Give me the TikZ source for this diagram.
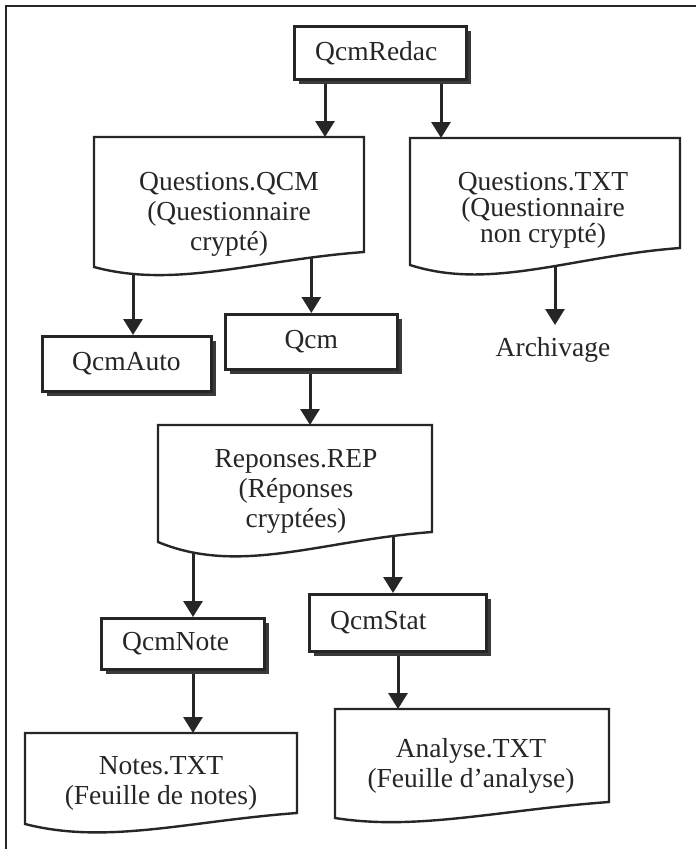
\documentclass[tikz,border=0pt]{standalone}
\usepackage{fontspec}
\setmainfont{Liberation Serif}
\usetikzlibrary{arrows.meta,shadows,backgrounds}
\definecolor{ink}{HTML}{262626}
\definecolor{shade}{HTML}{3A3A3A}
\tikzset{
  x=1pt, y=-1pt,
  every node/.style={font=\fontsize{27.5}{30}\selectfont, text=ink, inner sep=0pt},
  procbox/.style={draw=ink, line width=2.7pt, fill=white, anchor=north west,
    general shadow={fill=shade, shadow xshift=4.5pt, shadow yshift=-5pt}},
  doctext/.style={align=center},
  docline/.style={draw=ink, line width=2.4pt, fill=white},
  frame/.style={draw=ink, line width=2.2pt},
  flow/.style={draw=ink, line width=3pt, -{Triangle[length=16pt,width=19pt]}},
}
\begin{document}
\begin{tikzpicture}
\useasboundingbox (0,0) rectangle (696,849);
\draw[frame] (6,849) -- (6,6) -- (696,6);

% programs (shadowed boxes)
\node[procbox, minimum width=172pt, minimum height=53pt] (redac) at (293,25) {};
\node[anchor=west] (redacT) at ([xshift=22pt]redac.west) {QcmRedac};
\node[procbox, minimum width=169pt, minimum height=55pt] (auto) at (41,335) {};
\node[anchor=west] (autoT) at ([xshift=31pt]auto.west) {QcmAuto};
\node[procbox, minimum width=172pt, minimum height=55pt] (qcm) at (224,313) {};
\node (qcmT) at (qcm.center) {Qcm};
\node[procbox, minimum width=163pt, minimum height=51pt] (note) at (100,617) {};
\node[anchor=west] (noteT) at ([xshift=22pt]note.west) {QcmNote};
\node[procbox, minimum width=177pt, minimum height=57pt] (stat) at (308,593) {};
\node[anchor=west] (statT) at ([xshift=22pt]stat.west) {QcmStat};

% files (document shapes with a wavy lower edge)
\path[docline] (94,137) -- (364,137) -- (364,252)
  .. controls (256,260) and (175,289) .. (94,267) -- cycle;
\node[doctext] (qtext) at (229,214) {Questions.QCM\\(Questionnaire\\crypté)};

\path[docline] (410,138) -- (680,138) -- (680,248)
  .. controls (572,256) and (491,291) .. (410,265) -- cycle;
\node[doctext, font=\fontsize{27.5}{26}\selectfont] (ttext) at (543,210)
  {Questions.TXT\\(Questionnaire\\non crypté)};

\path[docline] (158,425) -- (432,425) -- (432,532)
  .. controls (322,540) and (240,576) .. (158,542) -- cycle;
\node[doctext] (rtext) at (296,491) {Reponses.REP\\(Réponses\\cryptées)};

\path[docline] (25,733) -- (297,733) -- (297,813)
  .. controls (188,821) and (107,845) .. (25,824) -- cycle;
\node[doctext] (ntext) at (161,783) {Notes.TXT\\(Feuille de notes)};

\path[docline] (335,709) -- (609,709) -- (609,802)
  .. controls (499,810) and (417,831) .. (335,818) -- cycle;
\node[doctext] (atext) at (471,766) {Analyse.TXT\\(Feuille d’analyse)};

\node (arch) at (553,350) {Archivage};

% arrow ends on the top edges
\coordinate (toQdoc) at (325,137);
\coordinate (toTdoc) at (441,138);
\coordinate (toAuto) at (133,335);
\coordinate (toRdoc) at (310,425);
\coordinate (toNote) at (193,617);
\coordinate (toStat) at (393,593);
\coordinate (toNdoc) at (193,733);
\coordinate (toAdoc) at (398,709);
\coordinate (toArch) at (555,325);

\begin{pgfonlayer}{background}
\draw[flow] (redac.center -| toQdoc) -- (toQdoc);
\draw[flow] (redac.center -| toTdoc) -- (toTdoc);
\draw[flow] (qtext.center -| toAuto) -- (toAuto);
\draw[flow] (qtext.center -| qcm.north) -- (qcm.north);
\draw[flow] (ttext.center -| toArch) -- (toArch);
\draw[flow] (qcm.center -| toRdoc) -- (toRdoc);
\draw[flow] (rtext.center -| toNote) -- (toNote);
\draw[flow] (rtext.center -| toStat) -- (toStat);
\draw[flow] (note.center -| toNdoc) -- (toNdoc);
\draw[flow] (stat.center -| toAdoc) -- (toAdoc);
\end{pgfonlayer}
\end{tikzpicture}
\end{document}
